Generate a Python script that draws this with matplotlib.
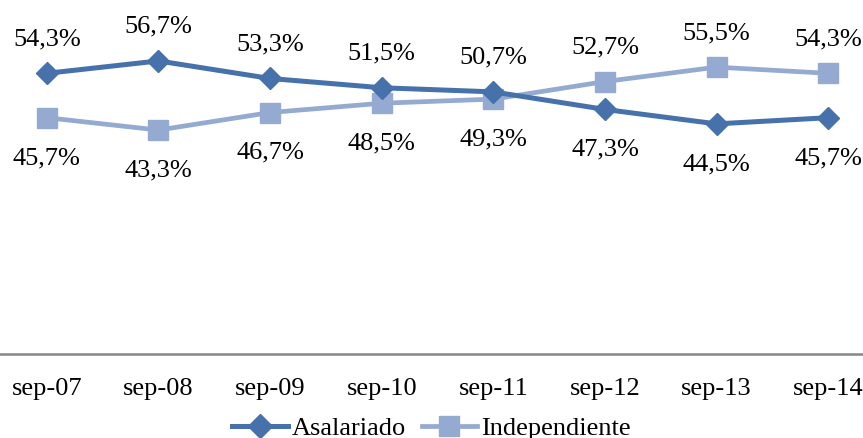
import matplotlib
matplotlib.use("Agg")
import matplotlib.pyplot as plt
from matplotlib.lines import Line2D

categories = ["sep-07", "sep-08", "sep-09", "sep-10", "sep-11", "sep-12", "sep-13", "sep-14"]
asalariado = [54.3, 56.7, 53.3, 51.5, 50.7, 47.3, 44.5, 45.7]
independiente = [45.7, 43.3, 46.7, 48.5, 49.3, 52.7, 55.5, 54.3]

c_asal = "#4671AA"
c_ind = "#95AAD1"

plt.rcParams['font.family'] = ['Liberation Serif', 'DejaVu Serif']
FS = 19

fig = plt.figure(figsize=(8.63, 4.38), dpi=100)
ymax = 70
ax = fig.add_axes([-9/863, (438-353.5)/438, 893/863, ymax*5.16/438])
x = list(range(len(categories)))

ax.plot(x, asalariado, color=c_asal, lw=3.6, marker='D', markersize=11, label="Asalariado", clip_on=False, zorder=3)
ax.plot(x, independiente, color=c_ind, lw=3.4, marker='s', markersize=14.5, label="Independiente", clip_on=False, zorder=2)

def fmt(v):
    return f"{v:.1f}".replace(".", ",") + "%"

for series, other in ((asalariado, independiente), (independiente, asalariado)):
    for i, v in enumerate(series):
        above = v >= other[i]
        off = 24.5 if above else -29
        ax.annotate(fmt(v), (i, v), xytext=(0, off), textcoords='offset points',
                    ha='center', va='center', fontsize=FS)

ax.set_xlim(-0.5, len(categories) - 0.5)
ax.set_ylim(0, ymax)
ax.set_yticks([])
ax.set_xticks(x)
ax.set_xticklabels(categories, fontsize=FS)
ax.tick_params(axis='x', length=0, pad=17.5)
for s in ['top', 'right', 'left']:
    ax.spines[s].set_visible(False)
ax.spines['bottom'].set_color('#868686')
ax.spines['bottom'].set_linewidth(1.8)
ax.patch.set_alpha(0)

handles = [Line2D([], [], color=c_asal, lw=3.6, marker='D', markersize=12),
           Line2D([], [], color=c_ind, lw=3.4, marker='s', markersize=14)]
fig.legend(handles, ["Asalariado", "Independiente"], loc='center', bbox_to_anchor=(0.5, 1 - 428/438),
           ncol=2, frameon=False, fontsize=FS, handlelength=2.1, handletextpad=0.15, columnspacing=0.6,
           borderpad=0)

fig.savefig("out.png", dpi=100)
